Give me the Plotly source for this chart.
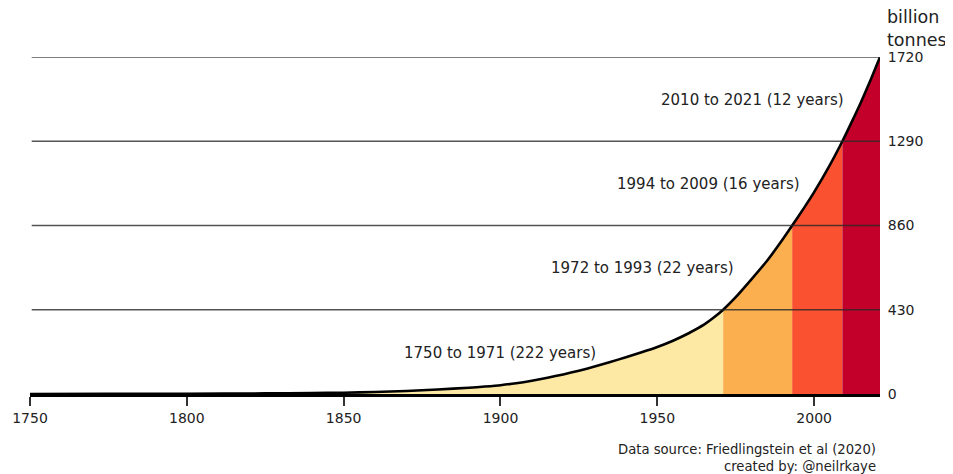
import plotly.graph_objects as go

# ---- data (billion tonnes, cumulative) ----
years = [1750, 1775, 1800, 1825, 1840, 1850, 1860, 1870, 1880, 1890, 1895, 1900, 1905, 1910,
         1915, 1920, 1925, 1930, 1935, 1940, 1945, 1950, 1955, 1960, 1965, 1968, 1971,
         1975, 1980, 1985, 1990, 1993, 1997, 2000, 2005, 2009, 2012, 2015, 2018, 2021]
cumulative = [0, 0.4, 1.3, 3, 5, 6.5, 10, 15.5, 23, 32, 38, 45, 55, 68,
              83, 100, 119, 140, 163, 188, 213, 240, 272, 310, 355, 390, 430,
              494, 585, 680, 790, 860, 955, 1030, 1168, 1290, 1389, 1492, 1603, 1720]

band_edges = [1750, 1971, 1993, 2009, 2021]
band_labels = ["1750 to 1971 (222 years)", "1972 to 1993 (22 years)",
               "1994 to 2009 (16 years)", "2010 to 2021 (12 years)"]
band_colors = ["#fde9a4", "#fbaf4e", "#fa5230", "#c2002a"]

x_ticks = [1750, 1800, 1850, 1900, 1950, 2000]
y_ticks = [0, 430, 860, 1290, 1720]
y_ticktext = ["0", "430", "860", "1290", "1720"]

FONT = "DejaVu Sans"
TXT = "#222222"

fig = go.Figure()

for i in range(len(band_edges) - 1):
    lo, hi = band_edges[i], band_edges[i + 1]
    bx = [x for x in years if lo <= x <= hi]
    by = [v for x, v in zip(years, cumulative) if lo <= x <= hi]
    fig.add_trace(go.Scatter(x=bx, y=by, mode="lines", fill="tozeroy",
                             fillcolor=band_colors[i],
                             line=dict(width=0, color=band_colors[i], shape="spline", smoothing=0.6),
                             hoverinfo="skip", showlegend=False))

fig.add_trace(go.Scatter(x=years, y=cumulative, mode="lines",
                         line=dict(color="black", width=2.6, shape="spline", smoothing=0.6),
                         showlegend=False))

# gridlines above fills
for v in y_ticks[1:]:
    fig.add_shape(type="line", xref="paper", x0=0.002, x1=1, yref="y", y0=v, y1=v,
                  line=dict(color="rgba(40,40,40,0.8)", width=1.6), layer="above")

# band labels
label_pos = [(1900, 209), (1945.3, 643), (1966.3, 1072), (1980.3, 1500)]
for (lx, ly), txt in zip(label_pos, band_labels):
    fig.add_annotation(x=lx, y=ly, xref="x", yref="y", text=txt, showarrow=False,
                       xanchor="center", yanchor="middle",
                       font=dict(family=FONT, size=15, color=TXT))

fig.add_annotation(x=1, y=1, xref="paper", yref="paper", xshift=5, yshift=29,
                   text="billion<br>tonnes", showarrow=False, xanchor="left",
                   yanchor="middle", align="left",
                   font=dict(family=FONT, size=17.5, color=TXT))

fig.add_annotation(x=0.9975, y=-0.19, xref="paper", yref="paper",
                   text="Data source: Friedlingstein et al (2020)<br>created by: @neilrkaye",
                   showarrow=False, xanchor="right", yanchor="middle", align="right",
                   font=dict(family=FONT, size=13.2, color=TXT))

# page body has an 8px margin, so the figure is 8px smaller than the window
fig.update_layout(
    width=945, height=466,
    margin=dict(l=22, r=73, t=49, b=80, autoexpand=False),
    plot_bgcolor="white", paper_bgcolor="white",
    font=dict(family=FONT, color=TXT),
    xaxis=dict(range=[1750, 2021], tickvals=x_ticks, ticks="outside", ticklen=9,
               tickwidth=1.5, tickcolor="#333", showline=True, linecolor="black",
               linewidth=2.5, showgrid=False, zeroline=False, layer="above traces",
               automargin=False,
               tickfont=dict(family=FONT, size=14, color=TXT)),
    yaxis=dict(range=[0, 1720], side="right", tickvals=y_ticks, ticktext=y_ticktext,
               ticks="outside", ticklen=4, tickcolor="rgba(0,0,0,0)", showline=False,
               showgrid=False, zeroline=False, automargin=False,
               tickfont=dict(family=FONT, size=14, color=TXT)),
)

fig.write_html("out.html")
